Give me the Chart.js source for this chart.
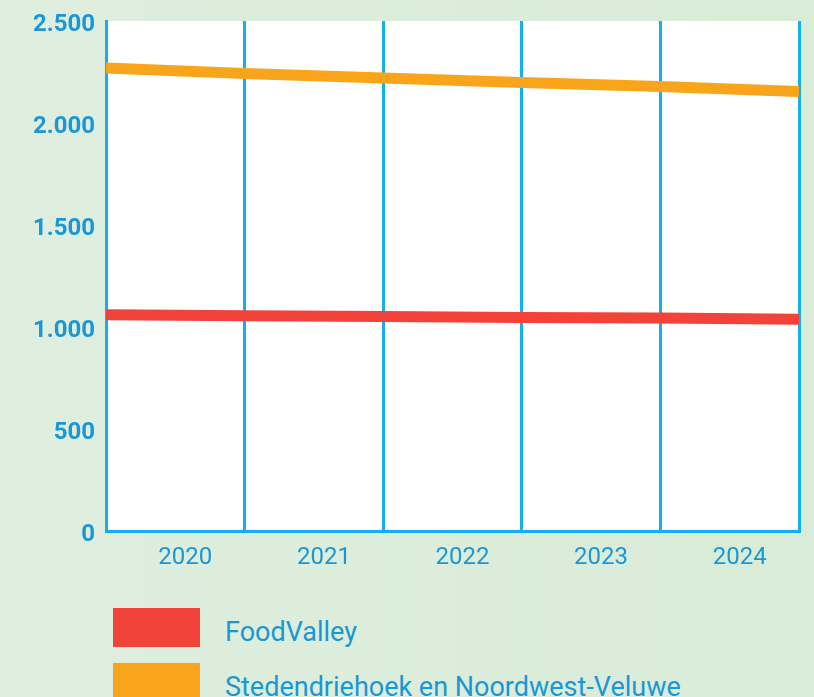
<!DOCTYPE html>
<html>
<head>
<meta charset="utf-8">
<script src="https://cdn.jsdelivr.net/npm/chart.js@4/dist/chart.umd.min.js"></script>
<style>
  html, body { margin: 0; padding: 0; }
  body {
    width: 814px; height: 697px; overflow: hidden; position: relative;
    background: linear-gradient(90deg, #dfeedf 0%, #dbedda 60%, #d9ecd8 100%);
    font-family: Roboto, "Noto Sans", sans-serif;
  }
  #wrap { position: absolute; left: 0; top: 0; width: 814px; height: 590px; }
  .lg-row { position: absolute; left: 113px; height: 39px; }
  .lg-box { position: absolute; left: 0; top: 0; width: 87px; height: 39px; }
  .lg-text { position: absolute; left: 112px; top: 5px; line-height: 39px; white-space: nowrap;
             font-size: 27px; color: #1a97d5; font-family: Roboto, sans-serif; }
</style>
</head>
<body>
<div id="wrap"><canvas id="c"></canvas></div>
<div id="legend"></div>
<script>
// ---- data ----
const years = ['2020', '2021', '2022', '2023', '2024'];
const periodBounds = [2020, 2021, 2022, 2023, 2024, 2025];
const seriesNames = ['FoodValley', 'Stedendriehoek en Noordwest-Veluwe'];
const foodValley = [1060, 1055, 1051, 1047, 1044, 1038];
const stedendriehoek = [2270, 2243, 2221, 2199, 2179, 2154];
const seriesColors = ['#f1433a', '#f9a51c'];

const blue = '#12b0ec';
const textBlue = '#1a97d5';

function fmt(v) {
  return String(v).replace(/\B(?=(\d{3})+(?!\d))/g, '.');
}

const plotBg = {
  id: 'plotBg',
  beforeDraw(chart) {
    const a = chart.chartArea;
    const ctx = chart.ctx;
    ctx.save();
    ctx.fillStyle = '#ffffff';
    ctx.fillRect(a.left, a.top, a.right - a.left, a.bottom - a.top);
    ctx.restore();
  }
};

const seriesValues = [foodValley, stedendriehoek];
const datasets = seriesValues.map((vals, i) => ({
  label: seriesNames[i],
  data: vals.map((v, j) => ({ x: periodBounds[j], y: v })),
  borderColor: seriesColors[i],
  backgroundColor: seriesColors[i],
  borderWidth: 11,
  pointRadius: 0,
  tension: 0,
  xAxisID: 'x',
  yAxisID: 'y'
}));

new Chart(document.getElementById('c'), {
  type: 'line',
  data: { datasets },
  plugins: [plotBg],
  options: {
    responsive: true,
    maintainAspectRatio: false,
    animation: false,
    layout: { padding: { left: 0, right: 15, top: 21, bottom: 0 } },
    plugins: { legend: { display: false }, tooltip: { enabled: false } },
    scales: {
      x: {
        type: 'linear',
        position: 'bottom',
        min: periodBounds[0],
        max: periodBounds[periodBounds.length - 1],
        ticks: { display: false, stepSize: 1 },
        grid: { color: blue, lineWidth: 3, drawTicks: false },
        border: { display: true, color: blue, width: 3 },
        afterFit(s) { s.height = 0; }
      },
      xLabels: {
        type: 'category',
        position: 'bottom',
        labels: years,
        offset: true,
        grid: { display: false, drawTicks: false },
        border: { display: false },
        ticks: {
          color: textBlue,
          padding: 13,
          labelOffset: 10,
          font: { family: 'Roboto', size: 24, weight: 'normal' }
        },
        afterFit(s) { s.height = 59; s.paddingLeft = 0; s.paddingRight = 0; }
      },
      y: {
        min: 0,
        max: 2500,
        ticks: {
          stepSize: 500,
          color: textBlue,
          padding: 11,
          labelOffset: 4,
          font: { family: 'Roboto', size: 24, weight: 'bold' },
          callback: (v) => fmt(v)
        },
        grid: { display: false, drawTicks: false },
        border: { display: true, color: blue, width: 3 },
        afterFit(s) { s.width = 106; s.paddingTop = 0; s.paddingBottom = 0; }
      }
    }
  }
});

// legend (HTML, built from the series arrays)
const lg = document.getElementById('legend');
seriesNames.forEach((name, i) => {
  const row = document.createElement('div');
  row.className = 'lg-row';
  row.style.top = (608 + i * 55) + 'px';
  const box = document.createElement('div');
  box.className = 'lg-box';
  box.style.background = seriesColors[i];
  const t = document.createElement('div');
  t.className = 'lg-text';
  t.textContent = name;
  row.appendChild(box);
  row.appendChild(t);
  lg.appendChild(row);
});
</script>
</body>
</html>
